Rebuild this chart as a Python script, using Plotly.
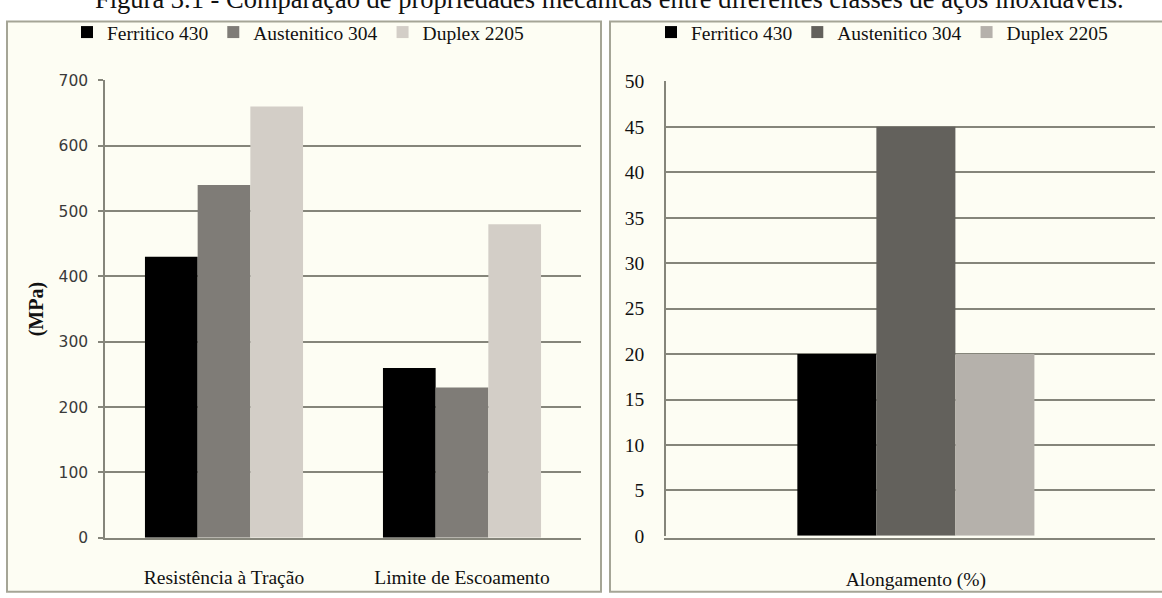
import plotly.graph_objects as go

# Tensile properties (MPa)
categorias_mpa = ["Resistência à Tração", "Limite de Escoamento"]
ferritico_mpa = [430, 260]
austenitico_mpa = [540, 230]
duplex_mpa = [660, 480]

# Elongation (%)
categorias_along = ["Alongamento (%)"]
ferritico_along = [20]
austenitico_along = [45]
duplex_along = [20]

serie_nomes = ["Ferritico 430", "Austenitico 304", "Duplex 2205"]
mpa_ticks = list(range(0, 701, 100))
along_ticks = list(range(0, 51, 5))

W, H = 1162, 598
CREAM = "#fdfdf3"
GRID = "#85857a"
FRAME = "#a5a596"
SERIF = "Liberation Serif, Times New Roman, serif"


def px_x(p):
    return p / W


def px_y(p):
    return 1 - p / H


cores_esq = ["#000000", "#7f7c77", "#d3cec7"]
cores_dir = ["#000000", "#63615c", "#b5b1ab"]

fig = go.Figure()

# left panel: three bars per category, placed side by side
w_esq = 0.2214
for i, (nome, vals) in enumerate(zip(serie_nomes, [ferritico_mpa, austenitico_mpa, duplex_mpa])):
    fig.add_trace(go.Bar(
        x=categorias_mpa, y=vals, name=nome,
        marker=dict(color=cores_esq[i], line=dict(width=0)),
        width=w_esq, offset=(i - 1.5) * w_esq,
        xaxis="x", yaxis="y", legend="legend",
    ))

# right panel
w_dir = 0.1616
for i, (nome, vals) in enumerate(zip(serie_nomes, [ferritico_along, austenitico_along, duplex_along])):
    fig.add_trace(go.Bar(
        x=categorias_along, y=vals, name=nome,
        marker=dict(color=cores_dir[i], line=dict(width=0)),
        width=w_dir, offset=(i - 1.5) * w_dir,
        xaxis="x2", yaxis="y2", legend="legend2",
    ))

shapes = [
    dict(type="rect", xref="paper", yref="paper",
         x0=px_x(7), x1=px_x(601), y0=px_y(603), y1=px_y(12),
         fillcolor=CREAM, line=dict(color=FRAME, width=2), layer="below"),
    dict(type="rect", xref="paper", yref="paper",
         x0=px_x(610), x1=px_x(1168), y0=px_y(603), y1=px_y(12),
         fillcolor=CREAM, line=dict(color=FRAME, width=2), layer="below"),
]

legend_style = dict(
    orientation="h", xanchor="left", yanchor="top",
    bgcolor="rgba(0,0,0,0)", font=dict(family=SERIF, size=19.5, color="#111111"),
    itemclick=False,
)

fig.update_layout(
    width=W, height=H,
    margin=dict(l=0, r=0, t=0, b=0),
    paper_bgcolor="#ffffff",
    plot_bgcolor="rgba(0,0,0,0)",
    barmode="overlay",
    shapes=shapes,
    xaxis=dict(
        domain=[px_x(105), px_x(581)], range=[-0.5, 1.5],
        showline=True, linecolor=GRID, linewidth=1.5,
        ticks="", showgrid=False,
        tickfont=dict(family=SERIF, size=19.5, color="#111111"),
        ticklabelstandoff=21,
    ),
    yaxis=dict(
        domain=[px_y(547), px_y(73)], range=[0, 700],
        tickvals=mpa_ticks,
        showgrid=True, gridcolor=GRID, gridwidth=1.5,
        showline=True, linecolor=GRID, linewidth=1.5,
        ticks="outside", ticklen=5, tickcolor=GRID, tickwidth=1.5,
        tickfont=dict(family="DejaVu Sans, sans-serif", size=15.5, color="#3a3a3a"),
        ticklabelstandoff=7,
        zeroline=False,
        title=dict(text="<b>(MPa)</b>", font=dict(family=SERIF, size=20, color="#111111"),
                   standoff=10),
    ),
    xaxis2=dict(
        domain=[px_x(666), px_x(1155)], range=[-0.511, 0.489],
        showline=True, linecolor=GRID, linewidth=1.5,
        ticks="", showgrid=False,
        tickfont=dict(family=SERIF, size=19.5, color="#111111"),
        ticklabelstandoff=23,
    ),
    yaxis2=dict(
        domain=[px_y(545), px_y(74)], range=[0, 50],
        tickvals=along_ticks, anchor="x2",
        showgrid=True, gridcolor=GRID, gridwidth=1.5,
        showline=True, linecolor=GRID, linewidth=1.5,
        ticks="", zeroline=False,
        tickfont=dict(family=SERIF, size=19.5, color="#111111"),
        ticklabelstandoff=16,
    ),
    legend=dict(legend_style, x=px_x(67), y=px_y(3)),
    legend2=dict(legend_style, x=px_x(651), y=px_y(3)),
    annotations=[
        dict(text="Figura 3.1 - Comparação de propriedades mecânicas entre diferentes classes de aços inoxidáveis.",
             xref="paper", yref="paper", x=px_x(609), y=1, xanchor="center", yanchor="bottom",
             yshift=-6, showarrow=False,
             font=dict(family=SERIF, size=26.5, color="#111111")),
    ],
)

fig.write_html("out.html")
